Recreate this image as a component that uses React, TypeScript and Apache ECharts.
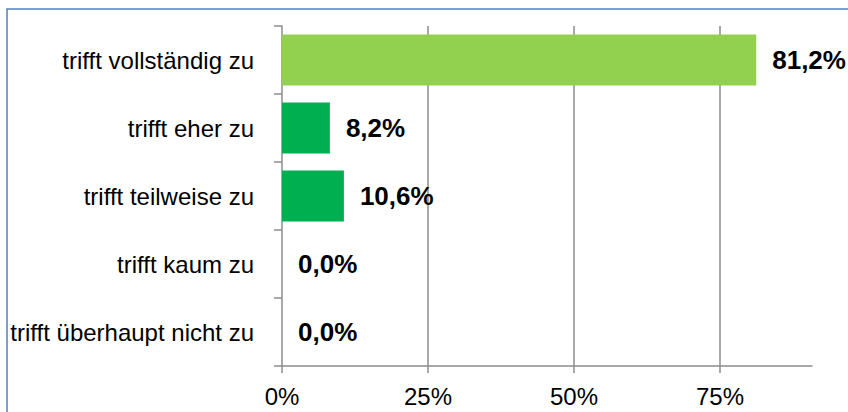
import React, { useEffect, useRef } from "react";
import * as echarts from "echarts";

const categories = [
  "trifft vollständig zu",
  "trifft eher zu",
  "trifft teilweise zu",
  "trifft kaum zu",
  "trifft überhaupt nicht zu",
];
const values = [81.2, 8.2, 10.6, 0.0, 0.0];
const barColors = ["#92D050", "#00B050", "#00B050", "#00B050", "#00B050"];
const xTicks = [0, 25, 50, 75];

const FONT = '"Liberation Sans Narrow", "Arial Narrow", "Liberation Sans", sans-serif';

export default function App() {
  const ref = useRef<HTMLDivElement>(null);
  useEffect(() => {
    if (!ref.current) return;
    const chart = echarts.init(ref.current, null, { renderer: "svg" });
    chart.setOption({
      animation: false,
      backgroundColor: "#ffffff",
      graphic: [
        {
          type: "rect",
          shape: { x: 7, y: 9, width: 900, height: 500 },
          style: { fill: "none", stroke: "#4F81BD", lineWidth: 1.5 },
          silent: true,
        },
      ],
      grid: { left: 282, top: 26, width: 530, height: 340, containLabel: false },
      xAxis: {
        type: "value",
        min: 0,
        max: 90.75,
        interval: 25,
        axisLine: { show: true, lineStyle: { color: "#8C8C8C", width: 1.5 } },
        axisTick: { show: true, length: 7, lineStyle: { color: "#8C8C8C", width: 1.5 } },
        splitLine: {
          show: true,
          showMinLine: false,
          showMaxLine: false,
          lineStyle: { color: "#8C8C8C", width: 1.5 },
        },
        axisLabel: {
          show: true,
          margin: 18,
          fontFamily: FONT,
          fontSize: 24,
          color: "#000",
          formatter: (v: number) => (xTicks.includes(v) ? v + "%" : ""),
          showMaxLabel: false,
        },
      },
      yAxis: {
        type: "category",
        data: categories,
        inverse: true,
        axisLine: { show: true, lineStyle: { color: "#8C8C8C", width: 1.5 } },
        axisTick: { show: true, length: 8, lineStyle: { color: "#8C8C8C", width: 1.5 } },
        axisLabel: {
          margin: 28,
          fontFamily: FONT,
          fontSize: 24,
          color: "#000",
        },
      },
      series: [
        {
          type: "bar",
          barWidth: "75%",
          data: values.map((v, i) => ({ value: v, itemStyle: { color: barColors[i] } })),
          label: {
            show: true,
            position: "right",
            distance: 16,
            fontFamily: FONT,
            fontSize: 26,
            fontWeight: "bold",
            color: "#000",
            formatter: (p: any) => p.value.toFixed(1).replace(".", ",") + "%",
          },
        },
      ],
    });
    return () => chart.dispose();
  }, []);
  return (
    <div
      ref={ref}
      style={{ position: "absolute", left: 0, top: 0, width: 848, height: 412 }}
    />
  );
}
